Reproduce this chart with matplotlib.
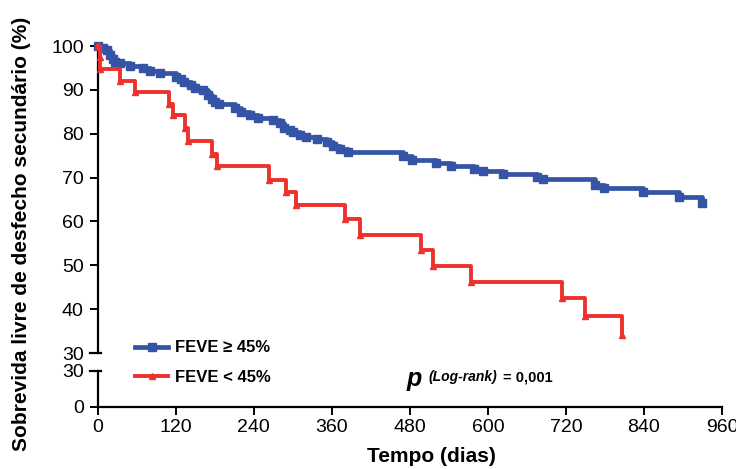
import matplotlib
matplotlib.use("Agg")
import matplotlib.pyplot as plt

plt.rcParams['font.family'] = ['Liberation Sans', 'DejaVu Sans']

# Kaplan-Meier, FEVE >= 45% (dias, %)
dias_alta = [0, 8, 14, 19, 24, 27, 34, 50, 70, 80, 96, 121, 128, 132, 144, 150,
             162, 170, 176, 181, 186, 211, 221, 234, 247, 270, 280, 287, 295,
             301, 311, 321, 337, 352, 362, 373, 385, 470, 483, 521, 543, 578,
             593, 624, 675, 685, 765, 778, 838, 894, 929]
surv_alta = [100, 99.5, 99, 98, 97, 96.4, 96.2, 95.4, 94.9, 94.4, 93.9, 93.0,
             92.4, 91.9, 91.1, 90.4, 90.0, 88.8, 88.0, 87.3, 86.8, 85.8, 85.0,
             84.3, 83.5, 83.1, 82.4, 81.3, 80.9, 80.5, 79.7, 79.2, 78.7, 78.2,
             77.1, 76.5, 75.8, 74.9, 74.0, 73.3, 72.7, 71.9, 71.4, 70.8, 70.2,
             69.6, 68.3, 67.6, 66.6, 65.5, 64.2]

# FEVE < 45%
dias_baixa = [0, 3, 4, 34, 57, 109, 116, 134, 139, 176, 183, 264, 290, 305,
              380, 403, 497, 516, 574, 714, 749, 807]
surv_baixa = [100, 97.4, 94.7, 92.1, 89.5, 86.8, 84.2, 81.2, 78.4, 75.4, 72.7,
              69.5, 66.7, 63.8, 60.5, 57.0, 53.5, 49.9, 46.3, 42.6, 38.4, 34.0]

xticks = list(range(0, 961, 120))
yticks_top = [30, 40, 50, 60, 70, 80, 90, 100]
yticks_bot = [0, 30]

azul = '#3554A6'
vermelho = '#ED322D'

fig = plt.figure(figsize=(7.36, 4.69), dpi=100)
ax = fig.add_axes([0.1327, 0.2473, 0.8482, 0.6546])
axb = fig.add_axes([0.1327, 0.1322, 0.8482, 0.0768])

l1, = ax.plot(dias_alta, surv_alta, drawstyle='steps-post', color=azul, lw=3.4,
              marker='s', ms=6, mec=azul, clip_on=False, zorder=3)
l2, = ax.plot(dias_baixa, surv_baixa, drawstyle='steps-post', color=vermelho,
              lw=2.8, marker='^', ms=4.5, mec=vermelho, clip_on=False, zorder=4)

for a in (ax, axb):
    a.set_xlim(0, 960)
    for s in ('top', 'right'):
        a.spines[s].set_visible(False)
    a.spines['left'].set_linewidth(1.6)
    a.tick_params(axis='both', labelsize=14, length=6, width=1.4, direction='out')
    a.tick_params(axis='y', pad=4)

ax.set_ylim(30, 100)
ax.set_yticks(yticks_top)
ax.spines['bottom'].set_visible(False)
ax.tick_params(axis='x', bottom=False, labelbottom=False)

axb.set_ylim(0, 30)
axb.set_yticks(yticks_bot)
axb.set_xticks(xticks)
axb.spines['bottom'].set_linewidth(1.6)
axb.tick_params(axis='x', pad=3)
axb.set_facecolor('none')

# marcas de quebra do eixo
for a, y in ((ax, 0), (axb, 1)):
    a.plot([-0.013, 0.006], [y, y], transform=a.transAxes, color='black',
           lw=1.6, clip_on=False)

fig.text(0.029, 0.502, 'Sobrevida livre de desfecho secundário (%)',
         rotation=90, ha='center', va='center', fontsize=15, fontweight='bold')
fig.text(0.5856, 0.026, 'Tempo (dias)', ha='center', va='center',
         fontsize=15, fontweight='bold')

fig.legend([l1, l2], ['FEVE ≥ 45%', 'FEVE < 45%'], loc='upper left',
           bbox_to_anchor=(0.1834, 0.274), frameon=False, borderpad=0,
           borderaxespad=0, handlelength=2.0, handletextpad=0.4,
           labelspacing=0.85, prop={'weight': 'bold', 'size': 12})

fig.text(0.553, 0.178, 'p', fontsize=18, fontweight='bold', style='italic',
         va='baseline')
fig.text(0.582, 0.188, '(Log-rank)', fontsize=10, fontweight='bold',
         style='italic', va='baseline')
fig.text(0.683, 0.186, '= 0,001', fontsize=10.5, fontweight='bold',
         va='baseline')

fig.savefig('out.png', dpi=100)
